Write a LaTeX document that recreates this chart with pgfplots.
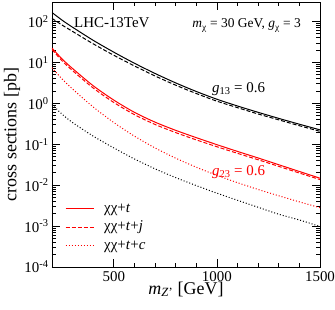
\documentclass[border=0pt]{standalone}
\usepackage{fontspec}
\setmainfont{Liberation Serif}
\usepackage{pgfplots}
\pgfplotsset{compat=1.18}
\newcommand{\fa}{\fontsize{15}{15}\selectfont}
\begin{document}
\begin{tikzpicture}
\begin{axis}[
  name=ax,
  scale only axis, width=268bp, height=265bp,
  xmin=200, xmax=1500, ymode=log, ymin=1e-4, ymax=300,
  xtick={500,1000,1500}, xticklabels={500,1000,1500},
  minor x tick num=4,
  ytick={1e-4,1e-3,1e-2,1e-1,1,10,100},
  yticklabels={10\textsuperscript{-4},10\textsuperscript{-3},10\textsuperscript{-2},10\textsuperscript{-1},10\textsuperscript{0},10\textsuperscript{1},10\textsuperscript{2}},
  tick align=inside, major tick length=8bp, minor tick length=4.5bp,
  axis line style={line width=0.9bp},
  every tick/.style={line width=0.8bp, black},
  ticklabel style={font=\fa},
  xticklabel style={inner sep=2bp, yshift=-2bp},
  label style={font=\fontsize{18}{18}\selectfont},
  xlabel={\textit{m}\textsubscript{\textit{Z}'} [GeV]},
  ylabel={cross sections [pb]},
  xlabel style={at={(axis description cs:0.5,0)}, anchor=base, yshift=-27bp, inner sep=0pt},
  ylabel style={at={(axis description cs:-0.149,0.5)}, anchor=center},
  legend style={draw=none, fill=none, at={(rel axis cs:0.0485,0.051)}, anchor=south west,
    font=\fa, inner sep=0pt, row sep=3.5bp, column sep=10bp,
    nodes={inner sep=0pt, text height=11bp, text depth=4bp}},
  legend image code/.code={\draw[#1] (0bp,0bp) -- (28bp,0bp);},
  legend cell align=left,
]
% black solid chi chi + t (g13)
\addplot[black, line width=1bp, smooth, forget plot] coordinates {
(200,166) (250,107) (300,72.4) (400,34.7) (500,17.8) (600,9.55) (700,5.37) (800,3.16) (900,1.95) (1000,1.26) (1100,0.861) (1200,0.603) (1300,0.429) (1400,0.309) (1500,0.225)};
% black dashed
\addplot[black, line width=1bp, dash pattern=on 4bp off 2bp, smooth, forget plot] coordinates {
(200,119.5) (250,81.3) (300,57.2) (400,28.5) (500,14.95) (600,8.21) (700,4.67) (800,2.78) (900,1.74) (1000,1.13) (1100,0.784) (1200,0.549) (1300,0.395) (1400,0.284) (1500,0.207)};
% black dotted
\addplot[black, line width=1bp, dash pattern=on 1bp off 2bp, smooth, forget plot] coordinates {
(200,0.933) (250,0.537) (300,0.339) (400,0.158) (500,0.0813) (600,0.0437) (700,0.0251) (800,0.0153) (900,0.00977) (1000,0.00638) (1100,0.00427) (1200,0.00288) (1300,0.00195) (1400,0.00141) (1500,0.00098)};
% red solid (g23)
\addplot[red, line width=1bp, smooth] coordinates {
(200,22.4) (250,12.0) (300,7.08) (400,2.69) (500,1.20) (600,0.603) (700,0.347) (800,0.219) (900,0.145) (1000,0.0977) (1100,0.0668) (1200,0.0462) (1300,0.0316) (1400,0.0216) (1500,0.0148)};
\addlegendentry{χχ+\textit{t}}
% red dashed
\addplot[red, line width=1bp, dash pattern=on 4bp off 2bp, smooth] coordinates {
(200,20.6) (250,10.8) (300,6.3) (400,2.37) (500,1.05) (600,0.53) (700,0.305) (800,0.193) (900,0.128) (1000,0.087) (1100,0.060) (1200,0.0418) (1300,0.0288) (1400,0.0198) (1500,0.0137)};
\addlegendentry{χχ+\textit{t}+\textit{j}}
% red dotted
\addplot[red, line width=1bp, dash pattern=on 1bp off 2bp, smooth] coordinates {
(200,7.41) (250,3.89) (300,2.24) (400,0.813) (500,0.339) (600,0.158) (700,0.0813) (800,0.0457) (900,0.0275) (1000,0.0174) (1100,0.0115) (1200,0.00785) (1300,0.0055) (1400,0.00391) (1500,0.00282)};
\addlegendentry{χχ+\textit{t}+\textit{c}}
\node[anchor=base, font=\fa] at (axis cs:490,70) {LHC-13TeV};
\node[anchor=base, font=\fontsize{13.5}{13.5}\selectfont] at (axis cs:1144,70) {\textit{m}\textsubscript{χ} = 30 GeV, \textit{g}\textsubscript{χ} = 3};
\node[anchor=base, font=\fa] at (axis cs:1105,1.85) {\textit{g}\textsubscript{13} = 0.6};
\node[anchor=base, font=\fa, red] at (axis cs:1105,0.0175) {\textit{g}\textsubscript{23} = 0.6};
\end{axis}
\pgfresetboundingbox
\path[use as bounding box] ([xshift=-52bp,yshift=-43bp]ax.south west) rectangle ([xshift=15bp,yshift=2bp]ax.north east);
\end{tikzpicture}
\end{document}
